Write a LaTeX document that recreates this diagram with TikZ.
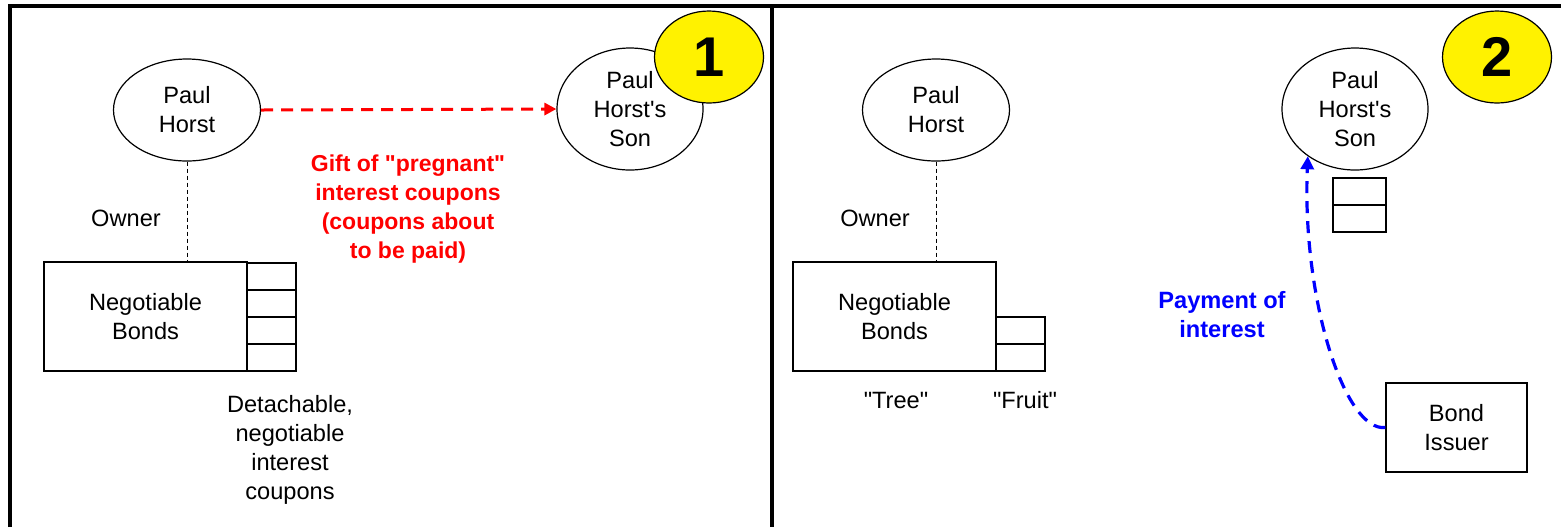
\documentclass[tikz,border=0pt]{standalone}
\usepackage{fontspec}
\setmainfont{Liberation Sans}[Ligatures=TeXOff]
\usetikzlibrary{shapes.geometric,arrows.meta}
\begin{document}
\begin{tikzpicture}[x=0.5pt,y=-0.5pt,
  every node/.style={font=\fontsize{11.8}{14.5}\selectfont, align=center, inner sep=0pt},
  frameline/.style={line width=1.6pt},
  person/.style={draw, ellipse, line width=0.6pt, minimum width=73.5pt, minimum height=51pt},
  personbig/.style={person, minimum width=73pt, minimum height=61pt},
  badge/.style={draw, ellipse, fill=yellow, line width=0.6pt, minimum width=54.5pt, minimum height=46pt,
    font=\fontsize{28}{30}\selectfont\bfseries},
  bondbox/.style={draw, rectangle, line width=0.7pt, minimum width=101.5pt, minimum height=54.5pt},
  issuerbox/.style={draw, rectangle, line width=0.7pt, minimum width=70.5pt, minimum height=44.5pt},
  coupon/.style={draw, rectangle, line width=0.8pt, minimum width=24.5pt, minimum height=13.5pt},
  coupons/.style={coupon, minimum width=26.5pt},
  ownerline/.style={line width=0.5pt, dash pattern=on 2pt off 1.5pt},
  gift/.style={red, line width=1.5pt, dash pattern=on 6pt off 4pt, -{Triangle[length=6pt,width=6pt]}},
  payment/.style={blue, line width=1.6pt, dash pattern=on 6pt off 4pt, -{Triangle[length=6.5pt,width=6.5pt]}},
  redtext/.style={text=red, font=\fontsize{11.5}{14.5}\selectfont\bfseries},
  bluetext/.style={text=blue, font=\fontsize{11.8}{14.5}\selectfont\bfseries}
]
\useasboundingbox (0,0) rectangle (1561,527);

% panel frame
\draw[frameline] (10,527) -- (10,6) -- (1561,6);
\draw[frameline] (772,6) -- (772,527);

% ---- panel 1: the gift of the coupons ----
\node[person] (ph1) at (187,110) {Paul\\Horst};
\node[personbig] (son1) at (630,109) {Paul\\Horst's\\Son};
\node[badge] (b1) at (709,57) {1};
\node[bondbox] (bonds1) at (145.5,316.5) {Negotiable\\Bonds};
\node[coupon] (c1a) at (271.5,276.5) {};
\node[coupon] (c1b) at (271.5,303.5) {};
\node[coupon] (c1c) at (271.5,330.5) {};
\node[coupon] (c1d) at (271.5,357.5) {};
\node (own1) at (126,218) {Owner};
\node (detach) at (290,449.5) {Detachable,\\negotiable\\interest\\coupons};
\node[redtext] (gifttext) at (408,209) {Gift of "pregnant"\\interest coupons\\(coupons about\\to be paid)};

\draw[ownerline] (ph1.south) -- (ph1.south |- bonds1.north);
\draw[gift] (ph1.east) -- (son1.west);

% ---- panel 2: the interest payment ----
\node[person] (ph2) at (936,110) {Paul\\Horst};
\node[personbig] (son2) at (1355,109) {Paul\\Horst's\\Son};
\node[badge] (b2) at (1497,57) {2};
\node[bondbox] (bonds2) at (894.5,316.5) {Negotiable\\Bonds};
\node[coupon] (c2a) at (1020.5,330.5) {};
\node[coupon] (c2b) at (1020.5,357.5) {};
\node[coupons] (c3a) at (1359.5,191.5) {};
\node[coupons] (c3b) at (1359.5,218.5) {};
\node[issuerbox] (issuer) at (1456.5,427.5) {Bond\\Issuer};
\node (own2) at (875,218) {Owner};
\node (tree) at (896,400) {"Tree"};
\node (fruit) at (1025,400) {"Fruit"};
\node[bluetext] (paytext) at (1222,314.5) {Payment of\\interest};

\draw[ownerline] (ph2.south) -- (ph2.south |- bonds2.north);
\draw[payment] (issuer.west) .. controls (1345,432) and (1302,300) .. (son2.-135);
\end{tikzpicture}
\end{document}
